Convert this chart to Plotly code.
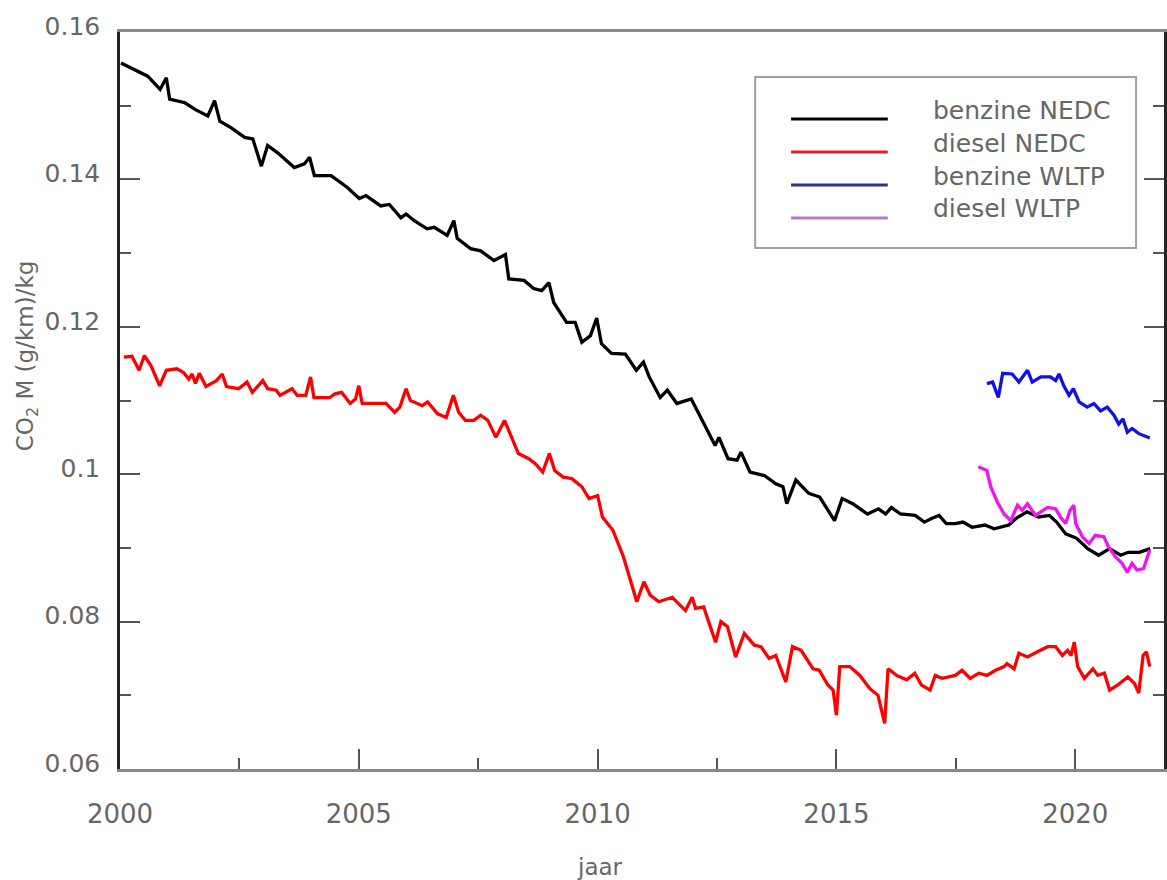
import plotly.graph_objects as go

# ---------------- data ----------------
benzine_nedc_year = [2000.02, 2000.31, 2000.58, 2000.84, 2000.97, 2001.04, 2001.36, 2001.57, 2001.84, 2001.98,
                     2002.09, 2002.33, 2002.61, 2002.78, 2002.96, 2003.09, 2003.30, 2003.65, 2003.86, 2003.97,
                     2004.07, 2004.42, 2004.76, 2005.01, 2005.15, 2005.46, 2005.64, 2005.88, 2005.99, 2006.16,
                     2006.43, 2006.58, 2006.85, 2006.99, 2007.06, 2007.34, 2007.55, 2007.83, 2008.07, 2008.14,
                     2008.46, 2008.66, 2008.83, 2008.98, 2009.08, 2009.35, 2009.53, 2009.67, 2009.85, 2009.98,
                     2010.08, 2010.29, 2010.58, 2010.81, 2010.96, 2011.08, 2011.31, 2011.46, 2011.66, 2011.96,
                     2012.12, 2012.46, 2012.54, 2012.73, 2012.92, 2013.00, 2013.19, 2013.50, 2013.73, 2013.88,
                     2013.96, 2014.15, 2014.42, 2014.65, 2014.96, 2015.12, 2015.34, 2015.65, 2015.88, 2016.03,
                     2016.15, 2016.34, 2016.65, 2016.84, 2016.99, 2017.15, 2017.30, 2017.49, 2017.65, 2017.84,
                     2018.11, 2018.30, 2018.61, 2018.76, 2018.99, 2019.23, 2019.46, 2019.61, 2019.80, 2020.03,
                     2020.26, 2020.49, 2020.72, 2020.95, 2021.11, 2021.34, 2021.57]
benzine_nedc_val = [0.1558, 0.1549, 0.1540, 0.1522, 0.1538, 0.1509, 0.1504, 0.1495, 0.1486, 0.1507,
                    0.1479, 0.1470, 0.1457, 0.1455, 0.1418, 0.1446, 0.1436, 0.1416, 0.1421, 0.1430,
                    0.1405, 0.1405, 0.1389, 0.1374, 0.1378, 0.1364, 0.1366, 0.1348, 0.1353, 0.1344,
                    0.1333, 0.1335, 0.1324, 0.1344, 0.1320, 0.1306, 0.1303, 0.1290, 0.1298, 0.1265,
                    0.1263, 0.1252, 0.1249, 0.1260, 0.1233, 0.1206, 0.1206, 0.1179, 0.1188, 0.1212,
                    0.1177, 0.1164, 0.1163, 0.1141, 0.1152, 0.1132, 0.1104, 0.1114, 0.1096, 0.1102,
                    0.1082, 0.1039, 0.1050, 0.1021, 0.1019, 0.1030, 0.1003, 0.0998, 0.0987, 0.0983,
                    0.0960, 0.0992, 0.0974, 0.0969, 0.0937, 0.0967, 0.0960, 0.0946, 0.0953, 0.0946,
                    0.0955, 0.0946, 0.0944, 0.0935, 0.0940, 0.0944, 0.0933, 0.0933, 0.0935, 0.0928,
                    0.0931, 0.0926, 0.0931, 0.0940, 0.0949, 0.0942, 0.0944, 0.0935, 0.0919, 0.0913,
                    0.0899, 0.0890, 0.0899, 0.0890, 0.0894, 0.0894, 0.0899]

diesel_nedc_year = [2000.08, 2000.25, 2000.40, 2000.51, 2000.65, 2000.83, 2000.97, 2001.19, 2001.33, 2001.44,
                    2001.51, 2001.58, 2001.66, 2001.80, 2002.02, 2002.14, 2002.23, 2002.48, 2002.66, 2002.77,
                    2002.99, 2003.09, 2003.27, 2003.35, 2003.60, 2003.71, 2003.89, 2003.99, 2004.06, 2004.39,
                    2004.50, 2004.64, 2004.82, 2004.93, 2005.00, 2005.07, 2005.36, 2005.57, 2005.75, 2005.86,
                    2005.99, 2006.08, 2006.33, 2006.44, 2006.65, 2006.83, 2006.98, 2007.09, 2007.23, 2007.41,
                    2007.55, 2007.70, 2007.87, 2008.05, 2008.20, 2008.34, 2008.56, 2008.70, 2008.85, 2008.99,
                    2009.10, 2009.28, 2009.46, 2009.67, 2009.82, 2010.00, 2010.10, 2010.32, 2010.54, 2010.68,
                    2010.82, 2010.97, 2011.10, 2011.28, 2011.38, 2011.56, 2011.84, 2011.98, 2012.05, 2012.22,
                    2012.47, 2012.58, 2012.72, 2012.89, 2013.07, 2013.28, 2013.42, 2013.59, 2013.73, 2013.94,
                    2014.08, 2014.26, 2014.51, 2014.64, 2014.82, 2014.93, 2015.00, 2015.07, 2015.28, 2015.49,
                    2015.70, 2015.87, 2016.01, 2016.08, 2016.26, 2016.47, 2016.64, 2016.78, 2016.96, 2017.07,
                    2017.21, 2017.49, 2017.63, 2017.80, 2017.98, 2018.15, 2018.33, 2018.51, 2018.57, 2018.72,
                    2018.82, 2019.00, 2019.21, 2019.42, 2019.59, 2019.73, 2019.84, 2019.91, 2019.98, 2020.05,
                    2020.19, 2020.37, 2020.47, 2020.61, 2020.72, 2020.89, 2021.10, 2021.24, 2021.33, 2021.42,
                    2021.49, 2021.56]
diesel_nedc_val = [0.1159, 0.1160, 0.1141, 0.1161, 0.1147, 0.1120, 0.1141, 0.1143, 0.1138, 0.1129,
                   0.1136, 0.1123, 0.1137, 0.1119, 0.1127, 0.1136, 0.1119, 0.1116, 0.1125, 0.1111,
                   0.1127, 0.1116, 0.1114, 0.1107, 0.1116, 0.1107, 0.1107, 0.1132, 0.1104, 0.1104,
                   0.1109, 0.1111, 0.1096, 0.1102, 0.1120, 0.1096, 0.1096, 0.1096, 0.1084, 0.1091,
                   0.1116, 0.1100, 0.1093, 0.1098, 0.1082, 0.1077, 0.1107, 0.1084, 0.1073, 0.1073,
                   0.1080, 0.1073, 0.1050, 0.1073, 0.1050, 0.1028, 0.1021, 0.1014, 0.1003, 0.1028,
                   0.1005, 0.0996, 0.0994, 0.0983, 0.0967, 0.0971, 0.0942, 0.0924, 0.0888, 0.0856,
                   0.0827, 0.0854, 0.0836, 0.0827, 0.0829, 0.0833, 0.0815, 0.0833, 0.0818, 0.0820,
                   0.0772, 0.0800, 0.0793, 0.0752, 0.0784, 0.0768, 0.0766, 0.0750, 0.0754, 0.0718,
                   0.0766, 0.0761, 0.0736, 0.0734, 0.0714, 0.0707, 0.0673, 0.0739, 0.0739, 0.0727,
                   0.0709, 0.0700, 0.0662, 0.0736, 0.0727, 0.0721, 0.0730, 0.0714, 0.0707, 0.0727,
                   0.0723, 0.0727, 0.0734, 0.0723, 0.0730, 0.0727, 0.0734, 0.0739, 0.0743, 0.0736,
                   0.0757, 0.0752, 0.0759, 0.0766, 0.0766, 0.0754, 0.0761, 0.0754, 0.0772, 0.0739,
                   0.0723, 0.0736, 0.0727, 0.0730, 0.0707, 0.0714, 0.0725, 0.0716, 0.0703, 0.0754,
                   0.0759, 0.0739]

benzine_wltp_year = [2018.15, 2018.27, 2018.39, 2018.48, 2018.68, 2018.82, 2019.00, 2019.10, 2019.28, 2019.48,
                     2019.59, 2019.66, 2019.76, 2019.87, 2019.96, 2020.08, 2020.25, 2020.39, 2020.53, 2020.67,
                     2020.81, 2020.91, 2021.00, 2021.09, 2021.19, 2021.33, 2021.56]
benzine_wltp_val = [0.1123, 0.1125, 0.1104, 0.1137, 0.1136, 0.1125, 0.1141, 0.1125, 0.1132, 0.1132,
                    0.1127, 0.1136, 0.1120, 0.1107, 0.1116, 0.1098, 0.1091, 0.1096, 0.1086, 0.1091,
                    0.1080, 0.1068, 0.1075, 0.1057, 0.1062, 0.1055, 0.1049]

diesel_wltp_year = [2017.97, 2018.15, 2018.23, 2018.37, 2018.51, 2018.65, 2018.79, 2018.89, 2019.00, 2019.17,
                    2019.28, 2019.42, 2019.59, 2019.69, 2019.80, 2019.89, 2019.97, 2020.01, 2020.15, 2020.29,
                    2020.42, 2020.60, 2020.70, 2020.84, 2020.98, 2021.09, 2021.19, 2021.29, 2021.43, 2021.56]
diesel_wltp_val = [0.1010, 0.1005, 0.0983, 0.0962, 0.0946, 0.0937, 0.0958, 0.0951, 0.0960, 0.0944,
                   0.0949, 0.0955, 0.0953, 0.0942, 0.0933, 0.0951, 0.0958, 0.0933, 0.0915, 0.0906,
                   0.0917, 0.0915, 0.0901, 0.0888, 0.0879, 0.0867, 0.0879, 0.0870, 0.0872, 0.0897]

series_names = ["benzine NEDC", "diesel NEDC", "benzine WLTP", "diesel WLTP"]
line_colors = ["#000000", "#ff0000", "#1010e8", "#f014f0"]
legend_colors = ["#000000", "#e2201c", "#2e3192", "#b07cc8"]

x_tick_vals = [2000, 2005, 2010, 2015, 2020]
x_tick_text = ["2000", "2005", "2010", "2015", "2020"]
y_tick_vals = [0.06, 0.08, 0.10, 0.12, 0.14, 0.16]
y_tick_text = ["0.06", "0.08", "0.1", "0.12", "0.14", "0.16"]

x_title = "jaar"
y_title = "CO<sub>2</sub> M (g/km)/kg"

# ---------------- figure ----------------
W, H = 1167, 880
L, R, T, B = 120, 0, 32, 111
PW, PH = W - L - R, H - T - B

def px(xp):
    return (xp - L) / PW

def py(yp):
    return (H - B - yp) / PH

xs = [benzine_nedc_year, diesel_nedc_year, benzine_wltp_year, diesel_wltp_year]
ys = [benzine_nedc_val, diesel_nedc_val, benzine_wltp_val, diesel_wltp_val]

fig = go.Figure()
for name, xv, yv, col in zip(series_names, xs, ys, line_colors):
    fig.add_trace(go.Scatter(x=xv, y=yv, mode="lines", name=name,
                             line=dict(color=col, width=3.3), showlegend=False))

font_family = "DejaVu Sans"
grey = "#666666"

fig.update_layout(
    width=W, height=H,
    margin=dict(l=L, r=R, t=T, b=B, pad=0),
    paper_bgcolor="white", plot_bgcolor="white",
    font=dict(family=font_family, color=grey),
    xaxis=dict(range=[2000, 2000 + PW / 47.9], showgrid=False, zeroline=False,
               showline=True, linecolor="#888888", linewidth=2.5, mirror=True,
               ticks="inside", ticklen=20, tickwidth=1.5, tickcolor="#555555",
               tickvals=x_tick_vals, ticktext=x_tick_text,
               tickfont=dict(size=26, color=grey, family=font_family),
               ticklabelstandoff=20,
               minor=dict(dtick=2.5, tick0=2000, ticks="inside", ticklen=11,
                          tickwidth=1.5, tickcolor="#555555")),
    yaxis=dict(range=[0.06, 0.16], showgrid=False, zeroline=False,
               showline=True, linecolor="#222222", linewidth=2.5, mirror="ticks",
               ticks="inside", ticklen=20, tickwidth=1.5, tickcolor="#555555",
               tickvals=y_tick_vals, ticktext=y_tick_text,
               tickfont=dict(size=25, color=grey, family=font_family),
               ticklabelstandoff=12, ticklabelshift=-6,
               minor=dict(dtick=0.01, tick0=0.06, ticks="inside", ticklen=11,
                          tickwidth=1.5, tickcolor="#555555")),
)

# axis titles
fig.add_annotation(text=x_title, xref="paper", yref="paper", x=px(601), y=py(867),
                   xanchor="center", yanchor="middle",
                   showarrow=False, font=dict(size=23, color=grey, family=font_family))
fig.add_annotation(text=y_title, xref="paper", yref="paper", x=px(27), y=py(356),
                   xanchor="center", yanchor="middle",
                   showarrow=False, textangle=-90,
                   font=dict(size=23, color=grey, family=font_family))

# legend box
fig.add_shape(type="rect", xref="paper", yref="paper",
              x0=px(757), x1=px(1139), y0=py(248), y1=py(77),
              line=dict(color="#a39ea3", width=2), fillcolor="white", layer="above")
line_rows = [119, 152, 185, 218]
text_rows = [111, 143, 176, 208]
for name, col, ly, ty in zip(series_names, legend_colors, line_rows, text_rows):
    fig.add_shape(type="line", xref="paper", yref="paper",
                  x0=px(793), x1=px(890), y0=py(ly), y1=py(ly),
                  line=dict(color=col, width=3), layer="above")
    fig.add_annotation(text=name, xref="paper", yref="paper", x=px(933), y=py(ty),
                       xanchor="left", yanchor="middle", showarrow=False,
                       font=dict(size=25, color=grey, family=font_family))

fig.write_html("out.html")
